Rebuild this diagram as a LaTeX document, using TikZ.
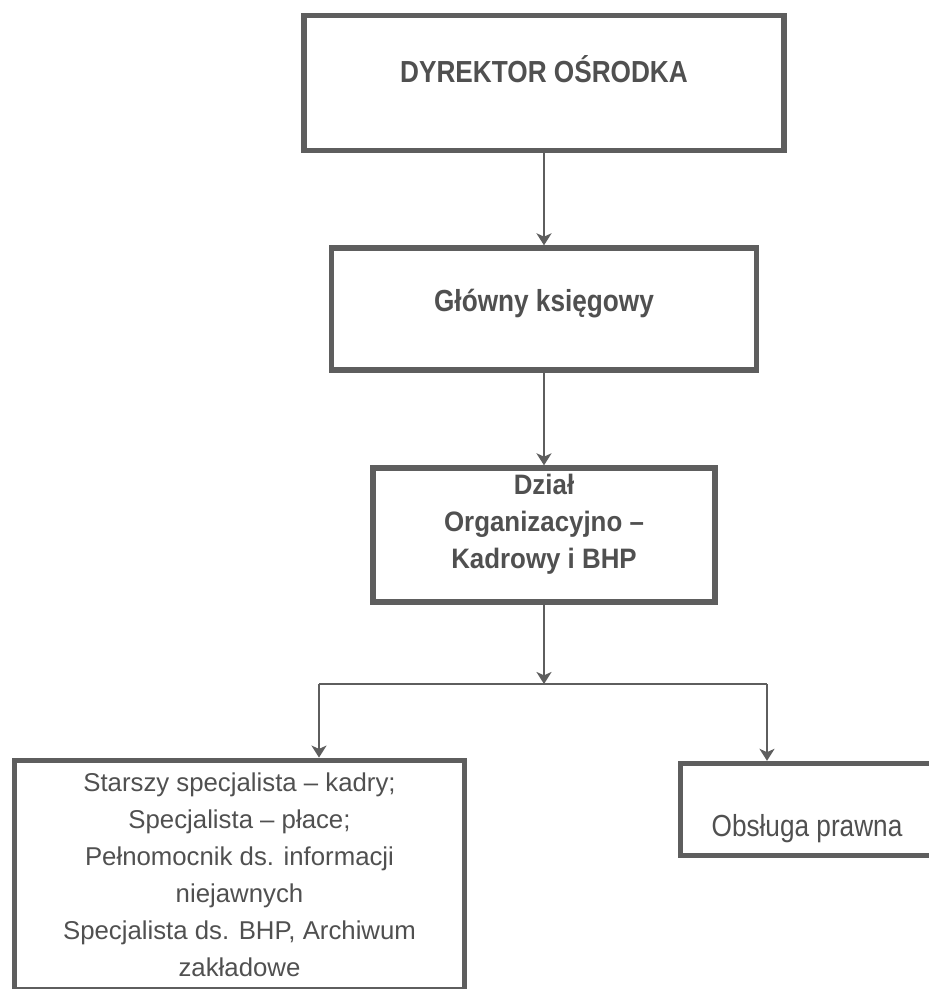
\documentclass[tikz,border=0pt]{standalone}
\usepackage{fontspec}
\setmainfont{Liberation Sans}
\newfontfamily\condfont[FakeStretch=0.86]{Liberation Sans}
\newfontfamily\midfont[FakeStretch=0.92]{Liberation Sans}
\usetikzlibrary{arrows.meta}
\definecolor{linegray}{HTML}{5E5E5E}
\definecolor{inkgray}{HTML}{505050}

\begin{document}
\begin{tikzpicture}[x = 0.03cm, y = -0.03cm]
\tikzstyle{BoxStyle}=[shape = rectangle,
                      draw = linegray,
                      line width = 0.16cm,
                      inner sep = 0pt,
                      text = inkgray,
                      align = center]
\tikzstyle{EdgeStyle}=[draw = linegray,
                       line width = 0.085cm,
                       -{Stealth[length = 0.36cm, width = 0.45cm, inset = 0.1cm]}]
\useasboundingbox (0,0) rectangle (928,989);
\node[BoxStyle, minimum width = 14.4cm, minimum height = 4.05cm, font = \condfont\bfseries\fontsize{26}{30}\selectfont, text height = 0.66cm, text depth = 0.66cm] (b0) at (544, 83) {DYREKTOR OŚRODKA};
\node[BoxStyle, minimum width = 12.75cm, minimum height = 3.66cm, font = \condfont\bfseries\fontsize{26}{30}\selectfont, text height = 0.66cm, text depth = 0.5cm] (b1) at (544, 309) {Główny księgowy};
\node[BoxStyle, minimum width = 10.26cm, minimum height = 4.02cm, font = \midfont\bfseries\fontsize{24}{31.6}\selectfont, text height = 2.88cm, text depth = 0.88cm] (b2) at (544, 535) {Dział\\ Organizacyjno –\\ Kadrowy i BHP};
\node[BoxStyle, minimum width = 13.5cm, minimum height = 6.885cm, font = \fontsize{22}{31.5}\selectfont] (b3) at (239.5, 875) {Starszy specjalista – kadry;\\ Specjalista – płace;\\ Pełnomocnik ds. informacji\\ niejawnych\\ Specjalista ds. BHP, Archiwum\\ zakładowe};
\node[BoxStyle, minimum width = 7.59cm, minimum height = 2.76cm, font = \condfont\fontsize{26}{30}\selectfont, text height = 1.62cm, text depth = 0cm] (b4) at (807, 809.5) {Obsługa prawna};
\coordinate (j0) at (544, 684);
\coordinate (j1) at (319, 684);
\coordinate (j2) at (767, 684);
\draw[EdgeStyle] (b0) -- (b1);
\draw[EdgeStyle] (b1) -- (b2);
\draw[EdgeStyle] (b2) -- (j0);
\draw[draw = linegray, line width = 0.085cm] (j1) -- (j2);
\draw[EdgeStyle] (j1) -- (j1 |- b3.north);
\draw[EdgeStyle] (j2) -- (j2 |- b4.north);
\end{tikzpicture}
\end{document}
